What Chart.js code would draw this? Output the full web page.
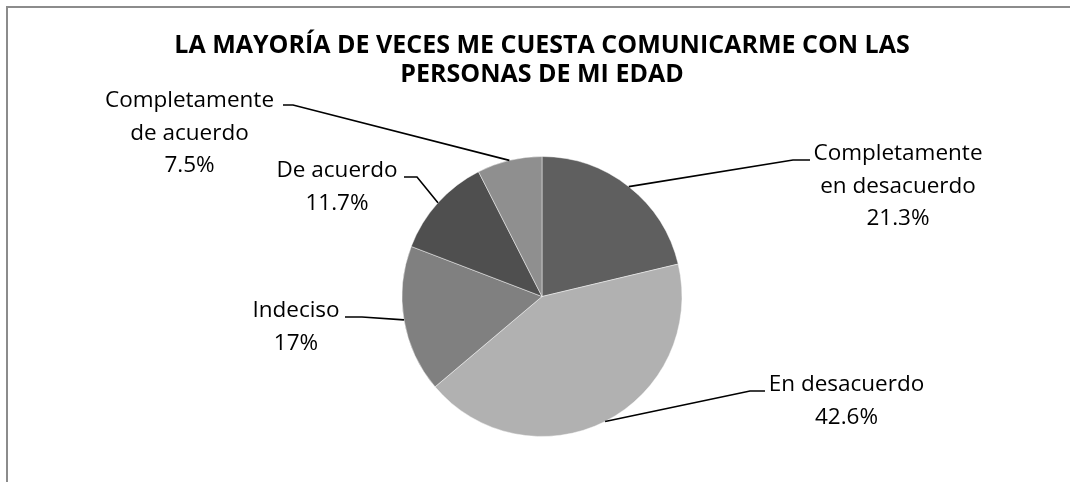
<!DOCTYPE html>
<html lang="es">
<head>
    <meta charset="UTF-8">
    <title>La mayoría de veces me cuesta comunicarme con las personas de mi edad</title>
    <script src="https://cdn.jsdelivr.net/npm/chart.js"></script>
    <style>
        html, body { margin: 0; padding: 0; background: #ffffff; }
        .wrap { position: relative; width: 1070px; height: 482px; overflow: hidden; }
        /* marco gris del gráfico (solo arriba e izquierda se ven) */
        .frame {
            position: absolute; left: 6px; top: 6px; right: -10px; bottom: -10px;
            border-top: 2px solid #8c8c8c; border-left: 2px solid #8c8c8c;
        }
        canvas { position: absolute; left: 0; top: 0; }
    </style>
</head>
<body>
<div class="wrap">
    <div class="frame"></div>
    <canvas id="pieChart" width="1070" height="482"></canvas>
</div>

<script>
    // Datos
    const categories = ['Completamente en desacuerdo', 'En desacuerdo', 'Indeciso', 'De acuerdo', 'Completamente de acuerdo'];
    const labelLines = [['Completamente', 'en desacuerdo'], ['En desacuerdo'], ['Indeciso'], ['De acuerdo'], ['Completamente', 'de acuerdo']];
    const values = [21.3, 42.6, 17, 11.7, 7.5];
    const sliceColors = ['#5f5f5f', '#b1b1b1', '#808080', '#4f4f4f', '#8f8f8f'];

    // Etiquetas externas con líneas guía (posiciones relativas al centro del pastel)
    const labelPlacement = [
        { text: [356, -136.5], elbow: [251, -136.5], end: [268, -136.5] },
        { text: [304.5, 94.5], elbow: [208, 94.5], end: [223, 94.5] },
        { text: [-246, 20.5], elbow: [-180, 20.5], end: [-197, 20.5] },
        { text: [-205, -119.5], elbow: [-125, -119.5], end: [-138, -119.5] },
        { text: [-352.5, -189.5], elbow: [-249, -191.5], end: [-259, -191.5] }
    ];

    const outsideLabels = {
        id: 'outsideLabels',
        afterDatasetsDraw(chart) {
            const ctx = chart.ctx;
            const meta = chart.getDatasetMeta(0);
            ctx.save();
            meta.data.forEach((arc, i) => {
                const p = arc.getProps(['x', 'y', 'startAngle', 'endAngle', 'outerRadius'], true);
                const mid = (p.startAngle + p.endAngle) / 2;
                const sx = p.x + Math.cos(mid) * p.outerRadius;
                const sy = p.y + Math.sin(mid) * p.outerRadius;
                const pl = labelPlacement[i];

                // línea guía
                ctx.strokeStyle = '#000000';
                ctx.lineWidth = 1.6;
                ctx.beginPath();
                ctx.moveTo(sx, sy);
                ctx.lineTo(p.x + pl.elbow[0], p.y + pl.elbow[1]);
                ctx.lineTo(p.x + pl.end[0], p.y + pl.end[1]);
                ctx.stroke();

                // texto
                const lines = labelLines[i].concat([values[i] + '%']);
                ctx.fillStyle = '#000000';
                ctx.font = '22.5px "Open Sans"';
                ctx.textAlign = 'center';
                ctx.textBaseline = 'alphabetic';
                lines.forEach((t, k) => {
                    ctx.fillText(t, p.x + pl.text[0], p.y + pl.text[1] + k * 32.5);
                });
            });
            ctx.restore();
        }
    };

    new Chart(document.getElementById('pieChart'), {
        type: 'pie',
        data: {
            labels: categories,
            datasets: [{
                data: values,
                backgroundColor: sliceColors,
                borderColor: 'rgba(255,255,255,0.45)',
                borderWidth: 1
            }]
        },
        options: {
            responsive: false,
            animation: false,
            layout: {
                padding: { left: 14, right: 0, top: 0, bottom: 45 }
            },
            plugins: {
                legend: { display: false },
                tooltip: { enabled: false },
                title: {
                    display: true,
                    text: ['LA MAYORÍA DE VECES ME CUESTA COMUNICARME CON LAS', 'PERSONAS DE MI EDAD'],
                    color: '#000000',
                    font: { family: 'Open Sans', size: 25, weight: 'bold', lineHeight: 1.18 },
                    padding: { top: 31, bottom: 66 }
                }
            }
        },
        plugins: [outsideLabels]
    });
</script>
</body>
</html>
